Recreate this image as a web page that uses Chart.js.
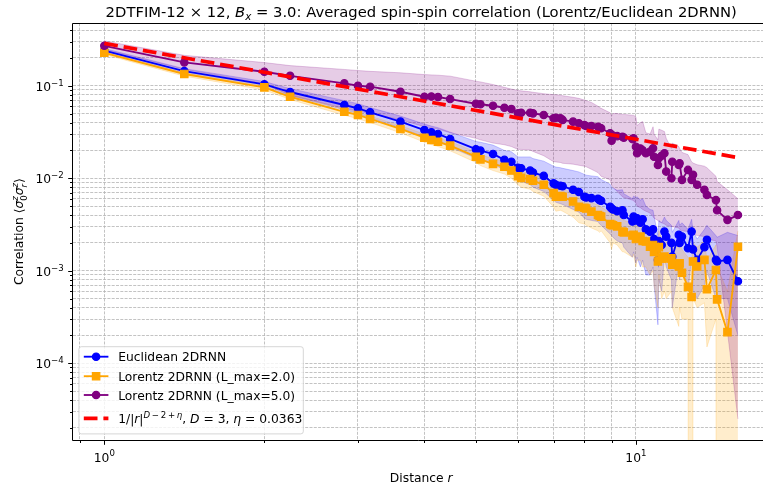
<!DOCTYPE html>
<html>
<head>
<meta charset="utf-8">
<script src="https://cdn.jsdelivr.net/npm/chart.js@4/dist/chart.umd.min.js"></script>
<style>
  html, body { margin: 0; padding: 0; overflow: hidden; background: #fff; }
  canvas { display: block; }
</style>
</head>
<body>
<canvas id="chart" width="763" height="490" style="width:763px;height:490px"></canvas>
<script>
// distances r on the 12x12 lattice
const distances = [1, 1.414, 2, 2.236, 2.828, 3, 3.162, 3.606, 4, 4.123,
  4.243, 4.472, 5, 5.099, 5.385, 5.657, 5.831, 6, 6.083, 6.325,
  6.403, 6.708, 7, 7.071, 7.211, 7.280, 7.616, 7.810, 8, 8.062,
  8.246, 8.485, 8.544, 8.602, 8.944, 9, 9.055, 9.220, 9.434, 9.487,
  9.849, 9.899, 10, 10.050, 10.198, 10.296, 10.440, 10.630, 10.770, 10.817,
  11, 11.045, 11.180, 11.314, 11.402, 11.662, 11.705, 12.042, 12.083, 12.207,
  12.530, 12.728, 12.806, 13.038, 13.454, 13.601, 14.142, 14.213, 14.866, 15.556];

// Euclidean 2DRNN
const euclidMean = [0.240, 0.144, 0.1035, 0.0855, 0.0619, 0.0570, 0.0516, 0.0409, 0.0332, 0.0314,
  0.0301, 0.0266, 0.0206, 0.0199, 0.0183, 0.0158, 0.0151, 0.0130, 0.0128, 0.0121,
  0.0115, 0.0106, 0.0088, 0.0085, 0.0083, 0.0082, 0.0075, 0.0071, 0.0063, 0.0062,
  0.0061, 0.0060, 0.0058, 0.0057, 0.0049, 0.0047, 0.0046, 0.0044, 0.0045, 0.0040,
  0.0034, 0.00385, 0.0035, 0.0037, 0.0033, 0.0036, 0.0028, 0.00265, 0.0028, 0.0022,
  0.00131, 0.0021, 0.0019, 0.00265, 0.00234, 0.0020, 0.00142, 0.00244, 0.0020, 0.00234,
  0.00175, 0.00265, 0.0017, 0.00131, 0.0018, 0.00216, 0.00131, 0.00126, 0.00131, 0.00077];
const euclidUpper = [0.252, 0.153, 0.111, 0.093, 0.069, 0.064, 0.058, 0.047, 0.0385, 0.0366,
  0.0352, 0.0315, 0.0250, 0.0245, 0.0228, 0.0200, 0.0193, 0.0170, 0.0170, 0.0170,
  0.0163, 0.0153, 0.0135, 0.0132, 0.0130, 0.0128, 0.0121, 0.0117, 0.0110, 0.0108,
  0.0106, 0.0104, 0.0100, 0.0097, 0.0086, 0.0080, 0.0078, 0.0074, 0.0075, 0.0068,
  0.0060, 0.0064, 0.0062, 0.0063, 0.0058, 0.0060, 0.0050, 0.0046, 0.0045, 0.0039,
  0.0024, 0.0035, 0.0033, 0.0038, 0.0035, 0.0031, 0.0026, 0.0035, 0.0031, 0.0033,
  0.0028, 0.0036, 0.0027, 0.0022, 0.0028, 0.0031, 0.0024, 0.0023, 0.0026, 0.0024];
const euclidLower = [0.229, 0.135, 0.096, 0.078, 0.055, 0.050, 0.045, 0.035, 0.028, 0.0262,
  0.0250, 0.0217, 0.0165, 0.0158, 0.0143, 0.0122, 0.0115, 0.0096, 0.0093, 0.0085,
  0.0080, 0.0072, 0.0058, 0.0055, 0.0053, 0.0052, 0.0046, 0.0043, 0.0037, 0.0036,
  0.0035, 0.0034, 0.0032, 0.0031, 0.0025, 0.0024, 0.0023, 0.0021, 0.0020, 0.0018,
  0.0014, 0.0016, 0.0012, 0.0014, 0.0011, 0.0013, 0.0009, 0.0009, 0.0011, 0.0007,
  0.00026, 0.0008, 0.0006, 0.0014, 0.0011, 0.0008, 0.0004, 0.0012, 0.0008, 0.0012,
  0.0006, 0.0014, 0.0006, 0.0005, 0.0007, 0.0010, 0.0005, 0.0005, 0.0005, 0.0002];

// Lorentz 2DRNN, L_max = 2.0
const lorentz2Mean = [0.227, 0.134, 0.096, 0.076, 0.0523, 0.0483, 0.0437, 0.0341, 0.0274, 0.0259,
  0.0248, 0.0225, 0.0171, 0.0160, 0.0143, 0.0133, 0.0121, 0.0105, 0.0101, 0.0098,
  0.0094, 0.0085, 0.0069, 0.0063, 0.0064, 0.0063, 0.0056, 0.0049, 0.0048, 0.0047,
  0.00436, 0.0040, 0.0039, 0.00385, 0.0032, 0.00313, 0.0031, 0.00302, 0.00265, 0.0026,
  0.0024, 0.00244, 0.0022, 0.0023, 0.00234, 0.0021, 0.00207, 0.00182, 0.0019, 0.0016,
  0.00126, 0.0018, 0.00136, 0.00142, 0.00136, 0.00136, 0.00116, 0.00111, 0.0012, 0.00095,
  0.00067, 0.00052, 0.00126, 0.00111, 0.00131, 0.00063, 0.00102, 0.00049, 0.000217, 0.00182];
const lorentz2Upper = [0.236, 0.140, 0.101, 0.081, 0.056, 0.052, 0.047, 0.037, 0.030, 0.0285,
  0.0273, 0.0250, 0.0192, 0.0180, 0.0162, 0.0152, 0.0140, 0.0122, 0.0118, 0.0115,
  0.0111, 0.0101, 0.0083, 0.0077, 0.0078, 0.0077, 0.0069, 0.0061, 0.0060, 0.0059,
  0.0055, 0.0051, 0.0050, 0.0049, 0.0042, 0.0041, 0.0041, 0.0040, 0.0036, 0.0035,
  0.0033, 0.0034, 0.0032, 0.0033, 0.0033, 0.0030, 0.0030, 0.0027, 0.0028, 0.0025,
  0.0021, 0.0027, 0.0022, 0.0023, 0.0022, 0.0022, 0.0019, 0.0020, 0.0020, 0.0017,
  0.0014, 0.0012, 0.0020, 0.0018, 0.0021, 0.0013, 0.0019, 0.0011, 0.0006, 0.0027];
const lorentz2Lower = [0.218, 0.127, 0.090, 0.071, 0.048, 0.044, 0.040, 0.031, 0.0245, 0.0231,
  0.0220, 0.0198, 0.0148, 0.0137, 0.0121, 0.0111, 0.0100, 0.0085, 0.0080, 0.0076,
  0.0072, 0.0064, 0.0049, 0.0044, 0.0045, 0.0044, 0.0038, 0.0033, 0.0032, 0.0031,
  0.0029, 0.0027, 0.0026, 0.0027, 0.0020, 0.0017, 0.0020, 0.0019, 0.0016, 0.0016,
  0.0014, 0.0015, 0.0011, 0.0013, 0.0013, 0.0011, 0.0011, 0.0009, 0.0010, 0.0007,
  0.0004, 0.0009, 0.0005, 0.0006, 0.0005, 0.0006, 0.0004, 0.00025, 0.0004, 0.0003,
  0.0003, 1e-30, 0.0005, 0.0004, 0.00045, 0.00015, 0.0003, 1e-30, 1e-30, 1e-30];

// Lorentz 2DRNN, L_max = 5.0
const lorentz5Mean = [0.270, 0.179, 0.1415, 0.128, 0.106, 0.100, 0.0976, 0.0861, 0.0760, 0.0765,
  0.0755, 0.0718, 0.0639, 0.0630, 0.0608, 0.0578, 0.0560, 0.0503, 0.0510, 0.0511,
  0.0503, 0.0483, 0.0445, 0.0450, 0.0445, 0.0427, 0.0409, 0.0393, 0.0375, 0.0367,
  0.0367, 0.0360, 0.0352, 0.0347, 0.0306, 0.0255, 0.0290, 0.0285, 0.0281, 0.0275,
  0.0265, 0.0270, 0.0219, 0.0186, 0.0210, 0.0200, 0.0186, 0.0194, 0.0211, 0.0171,
  0.0139, 0.0165, 0.0175, 0.0186, 0.0118, 0.0100, 0.0151, 0.0139, 0.0145, 0.0096,
  0.0123, 0.0096, 0.0109, 0.0085, 0.0075, 0.0066, 0.0058, 0.0045, 0.00355, 0.0040];
const lorentz5Upper = [0.305, 0.213, 0.178, 0.165, 0.150, 0.146, 0.143, 0.138, 0.132, 0.131,
  0.130, 0.127, 0.112, 0.110, 0.103, 0.096, 0.092, 0.089, 0.088, 0.086,
  0.085, 0.082, 0.080, 0.080, 0.079, 0.078, 0.075, 0.073, 0.070, 0.069,
  0.066, 0.060, 0.058, 0.057, 0.051, 0.047, 0.050, 0.050, 0.049, 0.049,
  0.048, 0.048, 0.046, 0.037, 0.040, 0.041, 0.031, 0.030, 0.036, 0.030,
  0.026, 0.034, 0.033, 0.032, 0.027, 0.021, 0.024, 0.022, 0.021, 0.019,
  0.018, 0.015, 0.0146, 0.014, 0.0135, 0.0130, 0.0105, 0.0092, 0.0075, 0.0060];
const lorentz5Lower = [0.245, 0.150, 0.105, 0.079, 0.057, 0.053, 0.050, 0.043, 0.036, 0.035,
  0.034, 0.031, 0.027, 0.026, 0.024, 0.023, 0.022, 0.0205, 0.0205, 0.0202,
  0.0195, 0.0175, 0.0151, 0.0150, 0.0148, 0.0145, 0.0142, 0.0138, 0.0135, 0.0133,
  0.0125, 0.0115, 0.0110, 0.0105, 0.0096, 0.0085, 0.0080, 0.0072, 0.0063, 0.0062,
  0.0058, 0.0057, 0.0054, 0.0050, 0.0048, 0.0046, 0.0044, 0.0042, 0.00385, 0.0037,
  0.0035, 0.0034, 0.0033, 0.0032, 0.0031, 0.0030, 0.0030, 0.0029, 0.0028, 0.0027,
  0.00265, 0.0026, 0.0025, 0.0024, 0.00234, 0.0022, 0.0021, 0.0018, 0.00022, 0.000025];

// reference power law 1/|r|^(D-2+eta), end points
const refR = [1, 15.556];
const refC = [0.287, 0.0167];

// axes (the right edge of the plot runs past the picture)
const xMin = 0.872, xMax = 17.34;
const yMin = 1.48e-5, yMax = 0.473;
const xMajorTicks = [1, 10];
const xTickExps = ['0', '1'];
const xMinorTicks = [0.9, 2, 3, 4, 5, 6, 7, 8, 9];
const yMajorTicks = [1e-4, 1e-3, 1e-2, 1e-1];
const yTickExps = ['\u22124', '\u22123', '\u22122', '\u22121'];
const yMinorTicks = [];
for (let e = -5; e <= -1; e++) {
  for (let m = 2; m <= 9; m++) {
    const v = m * Math.pow(10, e);
    if (v > yMin && v < yMax) yMinorTicks.push(v);
  }
}

const legendLabels = ['Euclidean 2DRNN', 'Lorentz 2DRNN (L_max=2.0)', 'Lorentz 2DRNN (L_max=5.0)'];

const BLUE = '#0000ff', ORANGE = '#ffa500', PURPLE = '#800080', RED = '#ff0000';
const FONT = '"DejaVu Sans", sans-serif';
const FS = 12.3;
const AXES_CX = 421.2; // centre of the full axes box

const pts = ys => distances.map((r, i) => ({x: r, y: ys[i]}));

function lineSet(label, ys, color, style, radius, order) {
  return {
    label, data: pts(ys), borderColor: color, backgroundColor: color,
    borderWidth: 1.85, pointStyle: style, pointRadius: radius,
    pointBackgroundColor: color, pointBorderColor: color, pointBorderWidth: 1.2,
    fill: false, order
  };
}
function bandSet(ys, rgba, fill, order) {
  return {
    data: pts(ys), borderColor: rgba, borderWidth: 1, backgroundColor: rgba,
    pointRadius: 0, fill, order
  };
}

// rich text helpers (italic / super / subscript runs)
function runFont(r, size) {
  const sz = r.s ? size * 0.7 : size;
  return (r.i ? 'italic ' : '') + sz.toFixed(2) + 'px ' + FONT;
}
function runsWidth(ctx, runs, size) {
  let w = 0;
  runs.forEach(r => {
    if (r.stack) {
      w += Math.max(...r.stack.map(p => { ctx.font = runFont({i: p.i, s: 1}, size); return ctx.measureText(p.t).width; }));
    } else {
      ctx.font = runFont(r, size);
      w += ctx.measureText(r.t).width;
    }
  });
  return w;
}
function drawRuns(ctx, runs, x, y, size, align) {
  const w = runsWidth(ctx, runs, size);
  let cx = align === 'center' ? x - w / 2 : align === 'right' ? x - w : x;
  ctx.textAlign = 'left';
  ctx.textBaseline = 'alphabetic';
  runs.forEach(r => {
    if (r.stack) {
      let m = 0;
      r.stack.forEach((p, k) => {
        ctx.font = runFont({i: p.i, s: 1}, size);
        ctx.fillText(p.t, cx, y + (k === 0 ? 0.27 : -0.42) * size);
        m = Math.max(m, ctx.measureText(p.t).width);
      });
      cx += m;
    } else {
      ctx.font = runFont(r, size);
      const dy = r.s === 'sup' ? -0.42 * size : r.s === 'sub' ? 0.22 * size : 0;
      ctx.fillText(r.t, cx, y + dy);
      cx += ctx.measureText(r.t).width;
    }
  });
}

const titleRuns = [
  {t: '2DTFIM-12 \u00d7 12, '}, {t: 'B', i: 1}, {t: 'x', i: 1, s: 'sub'},
  {t: ' = 3.0: Averaged spin-spin correlation (Lorentz/Euclidean 2DRNN)'}
];
const xLabelRuns = [{t: 'Distance '}, {t: 'r', i: 1}];
const yLabelRuns = [
  {t: 'Correlation '}, {t: '\u27e8'}, {t: '\u03c3', i: 1}, {stack: [{t: '0'}, {t: 'z', i: 1}]},
  {t: '\u03c3', i: 1}, {stack: [{t: 'r', i: 1}, {t: 'z', i: 1}]}, {t: '\u27e9'}
];
const refLabelRuns = [
  {t: '1/|'}, {t: 'r', i: 1}, {t: '|'}, {t: 'D', i: 1, s: 'sup'}, {t: '\u2009\u2212\u20092\u2009+\u2009', s: 'sup'},
  {t: '\u03b7', i: 1, s: 'sup'}, {t: ', '}, {t: 'D', i: 1}, {t: ' = 3, '}, {t: '\u03b7', i: 1}, {t: ' = 0.0363'}
];

function drawMarker(ctx, style, x, y, color) {
  ctx.fillStyle = color; ctx.strokeStyle = color; ctx.lineWidth = 1.2;
  ctx.beginPath();
  if (style === 'rect') ctx.rect(x - 3.7, y - 3.7, 7.4, 7.4);
  else ctx.arc(x, y, 3.7, 0, Math.PI * 2);
  ctx.fill(); ctx.stroke();
}

const decor = {
  id: 'decor',
  beforeDraw(chart) {
    const ctx = chart.ctx;
    ctx.save();
    ctx.fillStyle = '#fff';
    ctx.fillRect(0, 0, chart.width, chart.height);
    ctx.restore();
  },
  afterDraw(chart) {
    const {ctx, chartArea: a, scales: {x, y}} = chart;
    const L = Math.floor(a.left) + 0.5, T = Math.floor(a.top) + 0.5, B = Math.floor(a.bottom) + 0.5;
    ctx.save();
    // frame: left, top, bottom (the right spine lies outside the picture)
    ctx.strokeStyle = '#000';
    ctx.lineWidth = 1;
    ctx.beginPath();
    ctx.moveTo(chart.width + 2, T); ctx.lineTo(L, T); ctx.lineTo(L, B); ctx.lineTo(chart.width + 2, B);
    ctx.stroke();
    // tick marks
    ctx.beginPath();
    xMajorTicks.forEach(v => { const px = Math.round(x.getPixelForValue(v)) + 0.5; ctx.moveTo(px, B); ctx.lineTo(px, B + 4.3); });
    xMinorTicks.forEach(v => { const px = Math.round(x.getPixelForValue(v)) + 0.5; ctx.moveTo(px, B); ctx.lineTo(px, B + 2.5); });
    yMajorTicks.forEach(v => { const py = Math.round(y.getPixelForValue(v)) + 0.5; ctx.moveTo(L, py); ctx.lineTo(L - 4.3, py); });
    yMinorTicks.forEach(v => { const py = Math.round(y.getPixelForValue(v)) + 0.5; ctx.moveTo(L, py); ctx.lineTo(L - 2.5, py); });
    ctx.stroke();
    // tick labels
    ctx.fillStyle = '#000';
    xMajorTicks.forEach((v, i) => {
      drawRuns(ctx, [{t: '10'}, {t: xTickExps[i], s: 'sup'}], x.getPixelForValue(v), 461.5, FS, 'center');
    });
    yMajorTicks.forEach((v, i) => {
      drawRuns(ctx, [{t: '10'}, {t: yTickExps[i], s: 'sup'}], 63.7, y.getPixelForValue(v) + 5, FS, 'right');
    });
    // axis titles and title
    drawRuns(ctx, xLabelRuns, AXES_CX, 481.5, FS, 'center');
    ctx.save();
    ctx.translate(23.3, (a.top + a.bottom) / 2);
    ctx.rotate(-Math.PI / 2);
    drawRuns(ctx, yLabelRuns, 0, 0, FS, 'center');
    ctx.restore();
    drawRuns(ctx, titleRuns, AXES_CX, 16.5, 14.77, 'center');

    // legend
    const bx = 78.9, by = 346.7, bw = 224.4, bh = 87.2;
    ctx.beginPath();
    ctx.roundRect(bx, by, bw, bh, 2.5);
    ctx.fillStyle = 'rgba(255,255,255,0.8)';
    ctx.fill();
    ctx.strokeStyle = 'rgba(204,204,204,0.8)';
    ctx.lineWidth = 1;
    ctx.stroke();
    const hx0 = 83.8, hx1 = 108.4, tx = 118.2;
    const rows = [
      {c: BLUE, st: 'circle', y: 356.7},
      {c: ORANGE, st: 'rect', y: 376.2},
      {c: PURPLE, st: 'circle', y: 395.0}
    ];
    rows.forEach((r, i) => {
      ctx.strokeStyle = r.c; ctx.lineWidth = 1.85;
      ctx.beginPath(); ctx.moveTo(hx0, r.y); ctx.lineTo(hx1, r.y); ctx.stroke();
      drawMarker(ctx, r.st, (hx0 + hx1) / 2, r.y, r.c);
      ctx.fillStyle = '#000';
      ctx.font = FS + 'px ' + FONT;
      ctx.textAlign = 'left'; ctx.textBaseline = 'alphabetic';
      ctx.fillText(legendLabels[i], tx, r.y + 4.6);
    });
    ctx.strokeStyle = RED; ctx.lineWidth = 3.7;
    ctx.setLineDash([13.7, 5.9]);
    ctx.beginPath(); ctx.moveTo(hx0, 418.3); ctx.lineTo(hx1, 418.3); ctx.stroke();
    ctx.setLineDash([]);
    ctx.fillStyle = '#000';
    drawRuns(ctx, refLabelRuns, tx, 422.7, FS, 'left');
    ctx.restore();
  }
};

const gridCfg = {color: '#b4b4b4', lineWidth: 0.8, drawTicks: false};

new Chart(document.getElementById('chart'), {
  type: 'line',
  data: {
    datasets: [
      {
        label: '1/|r|^(D-2+eta)', data: refR.map((r, i) => ({x: r, y: refC[i]})),
        borderColor: RED, borderWidth: 3.7, borderDash: [13.7, 5.9], pointRadius: 0, fill: false, order: 0
      },
      lineSet(legendLabels[2], lorentz5Mean, PURPLE, 'circle', 3.7, 1),
      lineSet(legendLabels[1], lorentz2Mean, ORANGE, 'rect', 5.23, 2),
      lineSet(legendLabels[0], euclidMean, BLUE, 'circle', 3.7, 3),
      bandSet(lorentz5Upper, 'rgba(128,0,128,0.2)', '+1', 4),
      bandSet(lorentz5Lower, 'rgba(128,0,128,0.2)', false, 4),
      bandSet(lorentz2Upper, 'rgba(255,165,0,0.2)', '+1', 5),
      bandSet(lorentz2Lower, 'rgba(255,165,0,0.2)', false, 5),
      bandSet(euclidUpper, 'rgba(0,0,255,0.2)', '+1', 6),
      bandSet(euclidLower, 'rgba(0,0,255,0.2)', false, 6)
    ]
  },
  options: {
    responsive: false,
    animation: false,
    devicePixelRatio: 1,
    layout: {autoPadding: false, padding: {top: 23.3, right: 0, left: 0, bottom: 0}},
    plugins: {legend: {display: false}, tooltip: {enabled: false}, title: {display: false}},
    scales: {
      x: {
        type: 'logarithmic', min: xMin, max: xMax, bounds: 'data',
        afterBuildTicks: s => { s.ticks = xMajorTicks.concat(xMinorTicks).map(v => ({value: v})); },
        afterFit: s => { s.height = 50; },
        ticks: {display: false, autoSkip: false},
        grid: gridCfg,
        border: {display: false, dash: [3, 1.3]}
      },
      y: {
        type: 'logarithmic', min: yMin, max: yMax, bounds: 'data',
        afterBuildTicks: s => { s.ticks = yMajorTicks.concat(yMinorTicks).map(v => ({value: v})); },
        afterFit: s => { s.width = 72.7; },
        ticks: {display: false, autoSkip: false},
        grid: gridCfg,
        border: {display: false, dash: [3, 1.3]}
      }
    }
  },
  plugins: [decor]
});
</script>
</body>
</html>
